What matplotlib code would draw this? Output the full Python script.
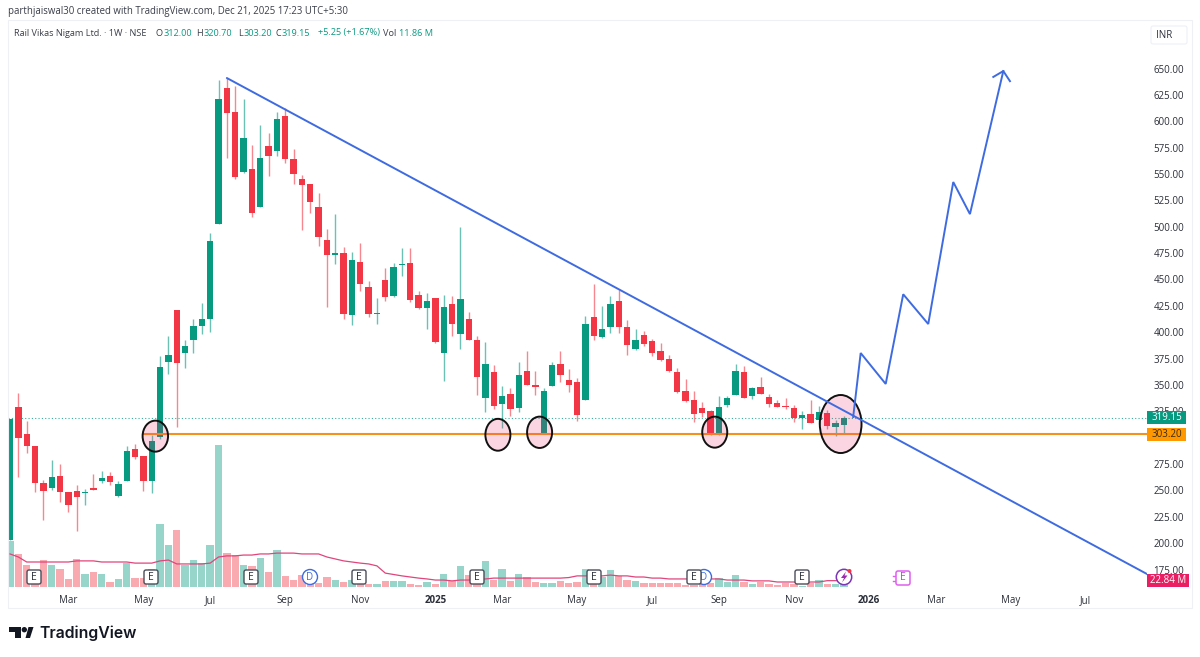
import matplotlib
matplotlib.use("Agg")
import matplotlib.pyplot as plt
from matplotlib.patches import Ellipse, Rectangle, FancyBboxPatch, Circle, Polygon
from matplotlib.colors import to_rgba

plt.rcParams['font.family'] = ['Open Sans', 'DejaVu Sans']

opens = [203,328.8,303.2,292,256.8,252,264,248.9,249.8,247.9,252,259,264,245,259.3,289.3,283,259.3,300.4,372.1,
         421,380,393,406,413,503,631.2,609,552,554.4,519,576.2,572,605,564,545,541,518.4,487.5,473.6,
         474.8,416.7,466.9,442.6,417,449.5,434.7,463.4,465.3,435.3,422.7,432.5,380,426.8,398,412.9,392.7,338,362.6,331.7,
         341.2,328.5,363.3,350,303.5,349,369.9,354.8,353.2,335.8,414.8,395.8,405.3,429.9,405.3,384,397.4,391.7,381.9,374.6,
         362.3,344.6,335.8,328.5,325.3,302.6,330.7,340.2,362.3,339.9,347.8,338.9,333.2,330.4,328.2,318.4,322.5,316.8,323.8,310.5,312.0]
highs = [317.7,342.7,316,292,260,278.9,274.8,248.9,255,251,265.6,268.5,267.8,259.3,292,294,283,302.6,377.5,396.4,
         421,393,413,428,493.8,639,641,633,621,577.5,596.5,589,609,613,573.4,549,541,532.3,497.9,512,
         480.5,476.4,484.3,449,432.8,460.6,465.3,480,479.6,439.4,436.9,432.5,435.3,434.7,499.5,418.9,396.5,391,369,349.4,
         346.8,371.8,382.2,363,346.8,372,382.2,364.9,357,415.7,445.7,425.2,434.4,440,411.6,403.4,401.5,393.3,389.5,378.4,
         365.8,355.4,344.6,334.2,326.3,339.6,339.6,369.9,368,348.5,357.2,341.4,335.8,337.3,331,325.3,335.8,330,326.3,316.8,320.7]
lows = [203,263,285.2,248.9,222,250,239.4,229.9,212,236.2,250,256.8,255,244,259,279.8,249.8,248,298.5,360.4,
        309.8,366.4,380,398,400.5,503,565.5,545,550.6,509.6,519,548,567,560,541,497,513.3,481.8,424.3,464.7,
        412.6,406.6,439.4,414.8,407.5,430,433.1,453.3,428.4,422.4,402.8,389.5,353.8,396.8,383.8,392.7,340.5,324.1,327,308.9,
        320.6,324.7,350,340.5,303.2,349,353,343.7,316.2,335.8,392.6,394.2,399,399,378.4,382.8,387,377.5,373,362.3,
        342,333.5,315,319.3,302.6,302.6,329.4,340.2,337.3,336.4,341.4,329.4,328.8,327.5,314.6,308.3,314.3,313,308.6,302,303.2]
closes = [317.7,299.4,292.2,257.4,249.5,262.4,248.9,236.2,243.5,248.6,250,261.8,258,256,287.4,282,259,297.2,367.4,378.4,
          371,386.6,406,413,486.5,621,608,547,584,513.3,565.5,567.4,602,564,550,539.6,523.8,490.6,473.2,474.8,
          417.3,468.5,445.8,417.3,418,433.7,462.2,464.4,430.6,423.3,429.6,390.8,424.3,407.8,431.2,392.7,357.9,369.6,330.4,339.6,
          327.6,359.5,350,348.4,344.6,369,359.5,350.3,321.6,407.8,396.4,403.4,426.5,405.3,388.2,393,388.8,380,374,363.3,
          343.7,334.5,322.5,323.1,302.6,329.4,338,363.6,337.7,347.1,341.8,331.7,329.4,328.8,318.4,321.2,314.3,324,311,314.3,319.15]
volumes_m = [166,119,79,61,97,79,65,29,101,47,54,47,18,29,86,32,32,65,227,151,205,79,97,86,151,511,122,115,79,76,104,54,133,40,25,
             43,29,14,36,25,18,25,14,11,11,22,22,22,11,7,18,11,47,22,76,43,11,94,25,65,22,47,36,18,14,14,22,14,18,65,11,36,61,40,
             25,22,14,14,14,14,14,7,7,11,14,32,18,43,18,11,18,11,7,14,11,4,14,25,11,11,11.86]
volume_ma_m = [119,108,90,90,90,90,90,90,94,94,94,90,90,90,90,86,86,86,94,97,83,83,83,83,86,108,112,112,115,115,119,119,122,122,122,
               119,119,119,108,101,94,90,86,83,76,50,45,40,36,32,29,25,25,22,25,25,29,29,32,32,32,32,32,32,32,32,32,34,40,40,40,40,
               43,40,40,36,36,32,32,29,29,29,29,29,29,29,25,25,25,22,22,22,18,18,18,14,18,18,22.84,22.84,22.84]

bars = list(range(len(closes)))
price_ticks = [175,200,225,250,275,325,350,375,400,425,450,475,500,525,550,575,600,625,650]
month_positions = [7,16,24,33,42,51,59,68,77,85,94,103,111,120,129]
month_labels = ['Mar','May','Jul','Sep','Nov','2025','Mar','May','Jul','Sep','Nov','2026','Mar','May','Jul']
trend_x = [26, 136.33]
trend_y = [641, 170.8]
path_x = [101.1,102,105,107.1,110.1,113.1,115.1,119.1]
path_y = [319.7,380.3,351,436,407.8,542.4,512,647.6]
arrow_x = [117.9,119.1,119.9]
arrow_y = [642,647.6,638]
support_level = 303.2
last_close = 319.15

GREEN = '#089981'; RED = '#F23645'; BLUE = '#3f6be0'; ORANGE = '#f5921e'; PINK = '#e91e63'
FS = 7.0
W, H = 1200, 657
fig = plt.figure(figsize=(12, 6.57), dpi=100, facecolor='white')
rect = [8/W, (H-587)/H, (1147-8)/W, 540/H]
xlim = (-0.24, 136.33)

axv = fig.add_axes(rect, zorder=1)
axv.set_xlim(*xlim); axv.set_ylim(0, 1944); axv.axis('off')
ax = fig.add_axes(rect, zorder=2)
ax.patch.set_alpha(0)
ax.set_xlim(*xlim); ax.set_ylim(158.5, 670.4)

up = [c >= o for o, c in zip(opens, closes)]
cols = [GREEN if u else RED for u in up]

axv.bar(bars, volumes_m, width=0.88, color=[to_rgba(c, 0.42) for c in cols], linewidth=0)
axv.plot(bars, volume_ma_m, color='#e0457b', lw=0.9)

ax.vlines(bars, lows, highs, colors=[to_rgba(c, 0.6) for c in cols], lw=1.0, zorder=2)
ax.bar(bars, [abs(c-o) for o, c in zip(opens, closes)], bottom=[min(o, c) for o, c in zip(opens, closes)],
       width=0.76, color=cols, linewidth=0, zorder=3)

ax.axhline(last_close, color=GREEN, lw=0.8, ls=(0, (1, 2)), alpha=0.8, zorder=1)
ax.plot([16, xlim[1]], [support_level]*2, color=ORANGE, lw=1.5, zorder=4)

for cx0, cx1, p0, p1 in [(15.9,18.95,286.8,316.2),(57,60,287.7,317.9),(62,65,290.3,320),(83,86,290.6,320),(97.1,102.1,285.5,340.5)]:
    ax.add_patch(Ellipse(((cx0+cx1)/2, (p0+p1)/2), cx1-cx0, p1-p0, facecolor=to_rgba(PINK, 0.18),
                         edgecolor='#111111', lw=1.4, zorder=5))

ax.plot(trend_x, trend_y, color=BLUE, lw=1.4, zorder=6, solid_capstyle='round')
ax.plot(path_x, path_y, color=BLUE, lw=1.4, zorder=6, solid_joinstyle='miter')
ax.plot(arrow_x, arrow_y, color=BLUE, lw=1.4, zorder=6)

for s in ax.spines.values():
    s.set_visible(False)
ax.yaxis.tick_right()
ax.set_yticks(price_ticks)
ax.set_yticklabels([f'{p:.2f}' for p in price_ticks], fontsize=FS, color='#2a2e39')
ax.set_xticks(month_positions)
ax.set_xticklabels(month_labels, fontsize=FS, color='#2a2e39')
for lab in ax.get_xticklabels():
    if lab.get_text() in ('2025', '2026'):
        lab.set_fontweight('bold')
ax.tick_params(axis='both', length=0)
ax.tick_params(axis='y', pad=4.5)
ax.tick_params(axis='x', pad=5.5)

# chrome, drawn in pixel coordinates
o = fig.add_axes([0, 0, 1, 1], zorder=5)
o.set_xlim(0, W); o.set_ylim(H, 0); o.axis('off'); o.patch.set_alpha(0)
FAINT = '#eef0f5'
o.add_patch(Rectangle((8, 20), 1184, 588, fill=False, ec=FAINT, lw=0.8))
o.add_patch(FancyBboxPatch((1151, 26), 36, 18, boxstyle='round,pad=0,rounding_size=2', fc='white', ec=FAINT, lw=0.8))
o.text(1164, 35, 'INR', ha='center', va='center', fontsize=FS, color='#2a2e39')

def txt(x, y, s, color='#3a3e49', size=FS, **kw):
    o.text(x, y, s, color=color, fontsize=size, va='center', ha='left', **kw)

txt(8, 11.5, 'parthjaiswal30 created with TradingView.com, Dec 21, 2025 17:23 UTC+5:30', size=6.95)
txt(14, 33, 'Rail Vikas Nigam Ltd. · 1W · NSE', size=6.6)
for x, s, c in [(156,'O',None),(164,'312.00',GREEN),(196,'H',None),(204,'320.70',GREEN),(238,'L',None),(244,'303.20',GREEN),
                (275.5,'C',None),(282,'319.15',GREEN),(318,'+5.25 (+1.67%)',GREEN),(383,'Vol',None),(399,'11.86 M',GREEN)]:
    txt(x, 33, s, color=c or '#3a3e49', size=6.6)

for y0, y1, x1, fc, s in [(411,424,1186,GREEN,'319.15'),(428,441,1186,'#ff9800','303.20'),(574,587,1189,PINK,'22.84 M')]:
    o.add_patch(Rectangle((1147, y0), x1-1147, y1-y0, fc=fc, ec='none', zorder=6))
    o.text((1147+x1)/2, (y0+y1)/2, s, color='#3a2a10' if fc == '#ff9800' else 'white', fontsize=FS,
           ha='center', va='center', zorder=7)

# dividends, behind earnings flags
for x in (310, 704):
    o.add_patch(Circle((x, 577), 7.5, fc='white', ec='#3f6be0', lw=1.0, zorder=3))
    o.text(x, 577, 'D', color='#3f6be0', fontsize=7, ha='center', va='center', zorder=3)
for x in (34, 151, 251, 359, 477, 594, 694, 802):
    o.add_patch(FancyBboxPatch((x-7, 570), 14, 14, boxstyle='round,pad=0,rounding_size=2', fc='white', ec='#4a4e59', lw=1.0, zorder=4))
    o.text(x, 577, 'E', color='#2a2e39', fontsize=7.5, ha='center', va='center', zorder=4)

# upcoming events
o.add_patch(Circle((844, 577), 7.7, fc='white', ec='#7b35b8', lw=1.1, zorder=4))
o.add_patch(Polygon([(846,571.5),(841,578),(844,578),(842,582.5),(847.5,575.5),(844.5,575.5)], fc='#9c27b0', ec='none', zorder=5))
o.add_patch(Circle((849.5, 571), 2, fc='#f23645', ec='none', zorder=5))
o.add_patch(FancyBboxPatch((896, 571), 14, 14, boxstyle='round,pad=0,rounding_size=2', fc='white', ec='#e05ff0', lw=1.1, zorder=4))
o.text(903, 578, 'E', color='#c040e0', fontsize=7.5, ha='center', va='center', zorder=5)
o.plot([892.5, 896], [575.5, 575.5], color='#e05ff0', lw=1)
o.plot([892.5, 896], [580.5, 580.5], color='#e05ff0', lw=1)

# logo
o.add_patch(Polygon([(9.3,627),(21,627),(21,638),(15,638),(15,632),(9.3,632)], fc='#131722', ec='none'))
o.add_patch(Circle((24.3, 629.7), 2.7, fc='#131722', ec='none'))
o.add_patch(Polygon([(28.5,627),(33.5,627),(30,638),(25.5,638)], fc='#131722', ec='none'))
o.text(39, 633, 'TradingView', color='#131722', fontsize=11.4, fontweight='semibold', family='Inter', ha='left', va='center')

fig.savefig('out.png', dpi=100)
